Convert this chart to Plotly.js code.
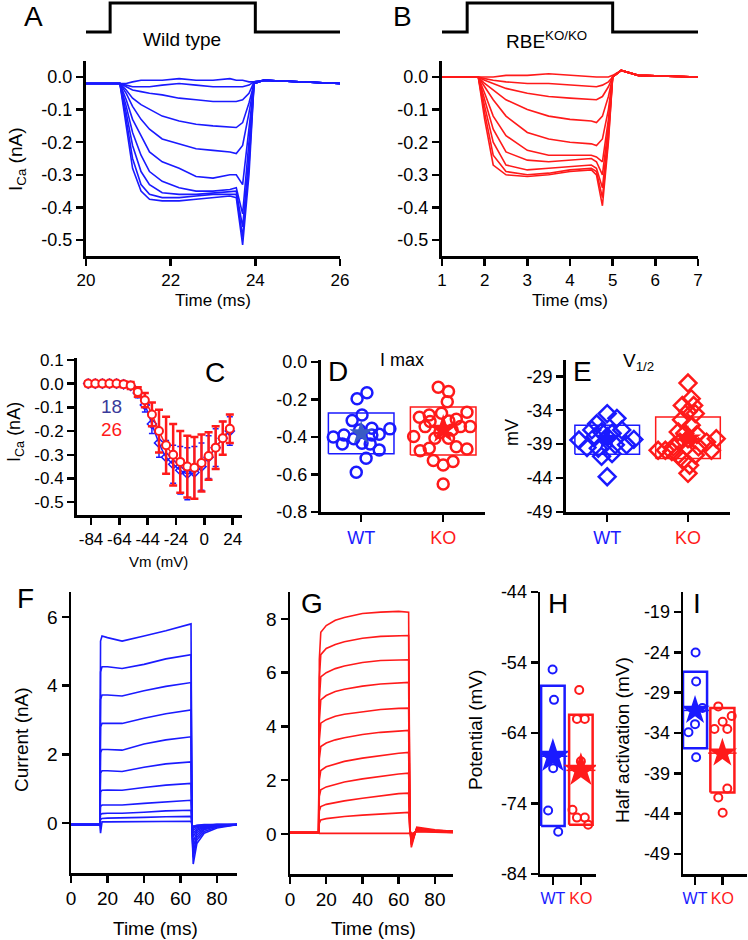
<!DOCTYPE html>
<html>
<head>
<meta charset="utf-8">
<script src="https://cdn.plot.ly/plotly-3.0.1.min.js"></script>
<style>
  body { margin: 0; background: #fff; }
  #fig { width: 748px; height: 940px; }
</style>
</head>
<body>
<div id="fig"></div>
<script>
// ---- A: wild type Ca currents (nA) vs time (ms)
const aTime = [20.0, 20.8, 20.95, 21.1, 21.3, 21.5, 21.8, 22.2, 22.6, 23.0, 23.4, 23.55, 23.7, 23.85, 23.97, 24.2, 26.0];
const aSweeps = [
  [-0.02,-0.02,-0.02,-0.015,-0.01,-0.01,-0.01,-0.005,-0.01,-0.01,-0.005,-0.01,-0.01,-0.015,-0.015,-0.01,-0.02],
  [-0.02,-0.02,-0.025,-0.03,-0.03,-0.03,-0.025,-0.02,-0.025,-0.03,-0.03,-0.03,-0.03,-0.025,-0.015,-0.01,-0.02],
  [-0.02,-0.02,-0.03,-0.04,-0.045,-0.05,-0.055,-0.065,-0.07,-0.075,-0.075,-0.075,-0.07,-0.05,-0.015,-0.01,-0.02],
  [-0.02,-0.02,-0.04,-0.065,-0.085,-0.1,-0.12,-0.135,-0.145,-0.15,-0.155,-0.155,-0.14,-0.08,-0.02,-0.01,-0.02],
  [-0.02,-0.02,-0.05,-0.09,-0.13,-0.16,-0.19,-0.205,-0.22,-0.225,-0.23,-0.235,-0.21,-0.11,-0.02,-0.01,-0.02],
  [-0.02,-0.02,-0.07,-0.13,-0.18,-0.23,-0.26,-0.28,-0.305,-0.31,-0.3,-0.3,-0.33,-0.15,-0.02,-0.01,-0.02],
  [-0.02,-0.02,-0.09,-0.17,-0.24,-0.29,-0.32,-0.34,-0.35,-0.35,-0.345,-0.34,-0.42,-0.2,-0.02,-0.01,-0.02],
  [-0.02,-0.02,-0.11,-0.21,-0.29,-0.33,-0.355,-0.36,-0.36,-0.355,-0.35,-0.35,-0.46,-0.24,-0.02,-0.01,-0.02],
  [-0.02,-0.02,-0.13,-0.25,-0.33,-0.36,-0.37,-0.37,-0.365,-0.36,-0.36,-0.36,-0.49,-0.27,-0.02,-0.01,-0.02],
  [-0.02,-0.02,-0.15,-0.28,-0.35,-0.375,-0.38,-0.38,-0.375,-0.37,-0.365,-0.37,-0.515,-0.3,-0.02,-0.01,-0.02]
];
const aStimT = [20, 20.57, 20.57, 24.0, 24.0, 26];
const stimLevel = [0, 0, 1, 1, 0, 0];

// ---- B: RBE KO/KO
const bTime = [1.0, 1.85, 2.0, 2.2, 2.5, 3.0, 3.5, 4.0, 4.5, 4.62, 4.76, 4.9, 5.0, 5.2, 5.6, 7.0];
const bSweeps = [
  [0,0,0,0,0.005,0.005,0.01,0.005,0,0,0,0,0.005,0.02,0.005,0],
  [0,0,-0.005,-0.01,-0.015,-0.02,-0.02,-0.025,-0.03,-0.03,-0.025,-0.015,0,0.02,0.005,0],
  [0,0,-0.01,-0.02,-0.035,-0.05,-0.06,-0.065,-0.07,-0.07,-0.06,-0.03,0,0.02,0.005,0],
  [0,0,-0.02,-0.04,-0.07,-0.1,-0.12,-0.13,-0.135,-0.14,-0.12,-0.06,0,0.02,0.005,0],
  [0,0,-0.03,-0.07,-0.12,-0.17,-0.19,-0.2,-0.205,-0.21,-0.19,-0.1,0,0.02,0.005,0],
  [0,0,-0.05,-0.12,-0.18,-0.225,-0.24,-0.24,-0.24,-0.245,-0.26,-0.13,0,0.02,0.005,0],
  [0,0,-0.07,-0.16,-0.23,-0.255,-0.26,-0.255,-0.25,-0.26,-0.3,-0.15,0,0.02,0.005,0],
  [0,0,-0.09,-0.2,-0.27,-0.285,-0.28,-0.275,-0.27,-0.28,-0.34,-0.17,0,0.02,0.005,0],
  [0,0,-0.11,-0.24,-0.29,-0.3,-0.295,-0.285,-0.28,-0.29,-0.37,-0.19,0,0.02,0.005,0],
  [0,0,-0.13,-0.27,-0.3,-0.305,-0.3,-0.29,-0.285,-0.3,-0.395,-0.2,0,0.02,0.005,0]
];
const bStimT = [1, 1.59, 1.59, 5.0, 5.0, 7];

// ---- C: I-V curves
const vmC = [-86,-81,-76,-71,-66,-61,-56,-51,-46,-41,-36,-31,-26,-21,-16,-11,-6,-1,4,9,14];
const wtMean = [0,0,0,0,0,-0.003,-0.01,-0.04,-0.09,-0.17,-0.25,-0.31,-0.34,-0.365,-0.38,-0.375,-0.35,-0.31,-0.27,-0.23,-0.2];
const wtErr = [0.01,0.01,0.01,0.01,0.01,0.01,0.012,0.02,0.03,0.04,0.06,0.07,0.08,0.1,0.11,0.11,0.1,0.09,0.08,0.07,0.06];
const koMean = [0,0,0,0,0,-0.003,-0.008,-0.035,-0.07,-0.13,-0.2,-0.26,-0.3,-0.33,-0.35,-0.355,-0.335,-0.305,-0.27,-0.23,-0.19];
const koErr = [0.01,0.01,0.01,0.01,0.01,0.012,0.015,0.02,0.03,0.05,0.09,0.12,0.13,0.13,0.13,0.13,0.12,0.1,0.09,0.07,0.06];

// ---- D: I max (nA)
const dWtJit = [0.07,-0.05,0.01,-0.11,0.13,0.35,-0.34,-0.21,0.22,-0.09,-0.23,0.01,0.11,0.22,0.06,-0.06,-0.02,0.13];
const dWtVal = [-0.164,-0.197,-0.283,-0.313,-0.354,-0.357,-0.40,-0.39,-0.386,-0.41,-0.437,-0.434,-0.437,-0.469,-0.514,-0.588,-0.363,-0.39];
const dKoJit = [-0.06,0.065,0.05,-0.29,-0.17,-0.02,0.29,0.16,-0.16,0.33,-0.36,0.11,-0.1,0.065,0.21,-0.28,-0.17,0.29,0.16,-0.12,0.12,0,0,-0.04,-0.22,0.07];
const dKoVal = [-0.135,-0.158,-0.212,-0.295,-0.283,-0.274,-0.268,-0.306,-0.318,-0.345,-0.398,-0.363,-0.407,-0.407,-0.345,-0.473,-0.46,-0.464,-0.452,-0.526,-0.531,-0.549,-0.651,-0.377,-0.345,-0.315];
const dBoxLo = [-0.49, -0.496], dBoxHi = [-0.272, -0.24], dMean = [-0.38, -0.36];

// ---- E: V1/2 (mV)
const eWtJit = [0,0.12,-0.13,-0.19,0.18,-0.07,0.06,-0.35,0.33,-0.25,0.24,-0.11,0.1,-0.07,0.06,0,0,-0.15];
const eWtVal = [-34.5,-35.2,-36.0,-36.9,-36.9,-37.2,-37.4,-38.4,-38.3,-39.5,-39.1,-39.6,-39.1,-40.8,-40.4,-37.9,-43.8,-37.9];
const eKoJit = [0,0.04,-0.07,0.07,0,0.09,-0.08,0.04,-0.12,-0.04,0.11,0,0.35,0.23,-0.1,-0.37,-0.28,-0.18,0.29,0.13,-0.12,0.09,-0.06,0.02,0,-0.2];
const eKoVal = [-30.0,-32.3,-33.3,-33.3,-34.2,-34.5,-35.4,-36.2,-37.2,-37.4,-37.6,-38.2,-38.2,-38.7,-38.7,-39.9,-39.9,-39.4,-39.9,-39.4,-40.6,-40.6,-41.4,-42.1,-43.3,-40.1];
const eBoxLo = [-40.5, -41.1], eBoxHi = [-36.2, -35.0], eMean = [-38.2, -38.2];

// ---- F / G: K currents (nA)
const fTime = [0, 15.8, 16.2, 17, 20, 28, 40, 52, 65.8, 66.3, 67, 69, 73, 80, 91];
const fSweeps = [
  [-0.05,-0.05,5.3,5.45,5.4,5.3,5.45,5.6,5.8,-0.2,-1.2,-0.6,-0.3,-0.15,-0.05],
  [-0.05,-0.05,4.4,4.55,4.55,4.5,4.62,4.78,4.9,-0.2,-1.0,-0.5,-0.25,-0.12,-0.05],
  [-0.05,-0.05,3.6,3.73,3.73,3.7,3.85,3.98,4.09,-0.2,-0.85,-0.42,-0.2,-0.1,-0.05],
  [-0.05,-0.05,2.8,2.9,2.9,2.9,3.05,3.18,3.29,-0.15,-0.7,-0.35,-0.17,-0.08,-0.05],
  [-0.05,-0.05,2.05,2.14,2.14,2.12,2.3,2.42,2.51,-0.15,-0.55,-0.28,-0.14,-0.07,-0.05],
  [-0.05,-0.05,1.45,1.52,1.52,1.5,1.62,1.72,1.78,-0.1,-0.4,-0.22,-0.12,-0.06,-0.05],
  [-0.05,-0.05,0.9,0.95,0.96,0.95,1.03,1.1,1.15,-0.1,-0.3,-0.18,-0.1,-0.06,-0.05],
  [-0.05,-0.05,0.48,0.52,0.52,0.52,0.57,0.62,0.66,-0.08,-0.22,-0.14,-0.08,-0.05,-0.05],
  [-0.05,-0.05,0.24,0.27,0.28,0.28,0.31,0.35,0.37,-0.06,-0.16,-0.1,-0.07,-0.05,-0.05],
  [-0.05,-0.05,0.1,0.13,0.14,0.14,0.16,0.18,0.19,-0.05,-0.12,-0.08,-0.06,-0.05,-0.05],
  [-0.05,-0.05,-0.3,0.03,0.03,0.03,0.04,0.05,0.05,-0.05,-0.1,-0.07,-0.05,-0.05,-0.05]
];
const gTime = [0, 15.8, 16.2, 17, 20, 25, 30, 40, 50, 60, 65.5, 66.2, 67, 70, 80, 90];
const gSweeps = [
  [0.05,0.05,6.5,7.5,7.75,7.95,8.05,8.2,8.25,8.28,8.25,0.3,-0.5,0.25,0.15,0.1],
  [0.05,0.05,5.8,6.67,6.9,7.05,7.15,7.28,7.35,7.38,7.38,0.25,-0.4,0.22,0.14,0.1],
  [0.05,0.05,5.0,5.84,6.0,6.15,6.25,6.38,6.45,6.48,6.48,0.25,-0.35,0.2,0.13,0.1],
  [0.05,0.05,4.2,4.99,5.15,5.3,5.38,5.5,5.58,5.62,5.64,0.2,-0.3,0.2,0.13,0.1],
  [0.05,0.05,3.5,4.12,4.25,4.38,4.45,4.55,4.63,4.67,4.68,0.2,-0.25,0.18,0.12,0.1],
  [0.05,0.05,2.8,3.25,3.38,3.5,3.58,3.7,3.78,3.83,3.85,0.2,-0.2,0.18,0.12,0.1],
  [0.05,0.05,2.0,2.36,2.5,2.6,2.7,2.82,2.92,3.0,3.03,0.15,-0.15,0.15,0.12,0.1],
  [0.05,0.05,1.4,1.64,1.75,1.85,1.93,2.05,2.15,2.23,2.26,0.15,-0.1,0.15,0.1,0.08],
  [0.05,0.05,0.85,1.02,1.1,1.17,1.23,1.33,1.42,1.5,1.52,0.1,-0.05,0.12,0.1,0.08],
  [0.05,0.05,0.4,0.52,0.57,0.62,0.65,0.7,0.75,0.79,0.8,0.1,0,0.1,0.08,0.06],
  [0.05,0.05,0.02,0.02,0.02,0.02,0.02,0.02,0.02,0.02,0.02,0.05,0,0.08,0.06,0.05]
];

// ---- H: potential (mV), I: half activation (mV)
const hWtJit = [-0.01,0.04,0.01,-0.17,0.19];
const hWtVal = [-55.0,-59.3,-69.0,-75.0,-78.0];
const hKoJit = [-0.06,-0.14,0.14,0,-0.3,-0.14,0.14,0.26];
const hKoVal = [-57.9,-62.0,-62.0,-68.0,-74.9,-76.0,-76.0,-77.0];
const hBoxLo = [-77.2, -77.0], hBoxHi = [-57.3, -61.4], hMean = [-67.3, -69.3];
const iWtJit = [0.02,0.04,0.27,0,-0.24,0.04];
const iWtVal = [-24.0,-27.6,-30.9,-32.9,-33.9,-37.0];
const iKoJit = [-0.15,0.34,0.01,-0.29,0.18,0.18,-0.15,0.01];
const iKoVal = [-30.7,-31.9,-32.6,-33.5,-33.5,-40.9,-42.0,-43.9];
const iBoxLo = [-35.9, -41.4], iBoxHi = [-26.4, -30.9], iMean = [-31.2, -36.5];

const BLUE = '#1a1aff', RED = '#ff1a1a';
const W = 748, H = 940;
const FONT = 'Liberation Sans, Arial, Helvetica, sans-serif';

function dx(l, r) { return [l / W, r / W]; }
function dy(top, bottom) { return [1 - bottom / H, 1 - top / H]; }

function axis(domain, range, anchor, vals, texts, extra) {
  return Object.assign({
    domain: domain, range: range, anchor: anchor,
    showline: true, linecolor: 'black', linewidth: 3,
    ticks: 'outside', ticklen: 7, tickwidth: 2.5, tickcolor: 'black',
    showgrid: false, zeroline: false, fixedrange: true, tickangle: 0,
    tickmode: 'array', tickvals: vals, ticktext: texts,
    tickfont: { family: FONT, size: 18, color: 'black' }
  }, extra || {});
}
function hidden(domain, range, anchor) {
  return { domain: domain, range: range, anchor: anchor, visible: false, fixedrange: true };
}
const f1 = v => v.toFixed(1);
const f0 = v => String(v);
const groupText = ['<span style="color:' + BLUE + '">WT</span>', '<span style="color:' + RED + '">KO</span>'];

const data = [];

function sweeps(t, list, color, xa, ya) {
  list.forEach(s => data.push({ x: t, y: s, xaxis: xa, yaxis: ya, mode: 'lines', type: 'scatter',
    line: { color: color, width: 1.6 }, hoverinfo: 'skip' }));
}
function stim(t, xa, ya) {
  data.push({ x: t, y: stimLevel, xaxis: xa, yaxis: ya, mode: 'lines', type: 'scatter',
    line: { color: 'black', width: 3 }, hoverinfo: 'skip' });
}
sweeps(aTime, aSweeps, BLUE, 'x', 'y');
stim(aStimT, 'x', 'y10');
sweeps(bTime, bSweeps, RED, 'x2', 'y2');
stim(bStimT, 'x2', 'y11');

// C
data.push({ x: vmC, y: wtMean, xaxis: 'x3', yaxis: 'y3', type: 'scatter', mode: 'lines+markers',
  line: { color: BLUE, width: 1.5, shape: 'spline' },
  marker: { symbol: 'diamond-open', size: 7, color: BLUE, line: { width: 1.5 } },
  error_y: { type: 'data', array: wtErr, color: BLUE, thickness: 1.5, width: 3 } });
data.push({ x: vmC, y: koMean, xaxis: 'x3', yaxis: 'y3', type: 'scatter', mode: 'lines+markers',
  line: { color: RED, width: 1.5, shape: 'spline' },
  marker: { symbol: 'circle', size: 8, color: 'white', line: { color: RED, width: 2 } },
  error_y: { type: 'data', array: koErr, color: RED, thickness: 2.5, width: 4 } });

// box + dots + mean star panels
function boxPanel(xa, ya, lo, hi, mean, pts, o) {
  const colors = [BLUE, RED];
  [0, 1].forEach(g => {
    const c = g, w = o.half;
    data.push({ x: [c - w, c + w, c + w, c - w, c - w], y: [lo[g], lo[g], hi[g], hi[g], lo[g]],
      xaxis: xa, yaxis: ya, type: 'scatter', mode: 'lines',
      line: { color: colors[g], width: o.boxWidth }, hoverinfo: 'skip' });
    if (o.meanLine) {
      data.push({ x: [c - 0.52, c + 0.52], y: [mean[g], mean[g]], xaxis: xa, yaxis: ya, type: 'scatter',
        mode: 'lines', line: { color: colors[g], width: 1.5 }, hoverinfo: 'skip' });
    }
    const jit = pts[g][0], val = pts[g][1];
    data.push({ x: jit.map(j => c + j), y: val, xaxis: xa, yaxis: ya, type: 'scatter', mode: 'markers',
      marker: { symbol: o.symbol, size: o.size, color: colors[g], line: { color: colors[g], width: o.lw } },
      hoverinfo: 'skip' });
    data.push({ x: [c], y: [mean[g]], xaxis: xa, yaxis: ya, type: 'scatter', mode: 'markers',
      marker: { symbol: 'star', size: o.star[g], color: o.starColor[g], line: { width: 0 } }, hoverinfo: 'skip' });
  });
}
boxPanel('x4', 'y4', dBoxLo, dBoxHi, dMean, [[dWtJit, dWtVal], [dKoJit, dKoVal]],
  { half: 0.4, boxWidth: 1.5, symbol: 'circle-open', size: 11, lw: 2.5, star: [18, 22], starColor: ['#3a5bc4', RED] });
boxPanel('x5', 'y5', eBoxLo, eBoxHi, eMean, [[eWtJit, eWtVal], [eKoJit, eKoVal]],
  { half: 0.4, boxWidth: 1.5, symbol: 'diamond-open', size: 13, lw: 2.5, star: [18, 20], starColor: [BLUE, RED] });

sweeps(fTime, fSweeps, BLUE, 'x6', 'y6');
sweeps(gTime, gSweeps, RED, 'x7', 'y7');

boxPanel('x8', 'y8', hBoxLo, hBoxHi, hMean, [[hWtJit, hWtVal], [hKoJit, hKoVal]],
  { half: 0.42, boxWidth: 2.5, symbol: 'circle-open', size: 8, lw: 2, star: [26, 26], starColor: [BLUE, RED], meanLine: true });
boxPanel('x9', 'y9', iBoxLo, iBoxHi, iMean, [[iWtJit, iWtVal], [iKoJit, iKoVal]],
  { half: 0.44, boxWidth: 2.5, symbol: 'circle-open', size: 8, lw: 2, star: [22, 22], starColor: [BLUE, RED], meanLine: true });

const aY = [0, -0.1, -0.2, -0.3, -0.4, -0.5];
const cY = [0.1, 0, -0.1, -0.2, -0.3, -0.4, -0.5];
const cX = [-84, -64, -44, -24, -4, 16];
const cXText = ['-84', '-64', '-44', '-24', '0', '24'];
const dY = [0, -0.2, -0.4, -0.6, -0.8];
const eY = [-29, -34, -39, -44, -49];
const fY = [0, 2, 4, 6], gY = [0, 2, 4, 6, 8], fgX = [0, 20, 40, 60, 80];
const hY = [-44, -54, -64, -74, -84];
const iY = [-19, -24, -29, -34, -39, -44, -49];
const abX = { tickfont: { family: FONT, size: 17, color: 'black' } };
const cfont = { tickfont: { family: FONT, size: 17, color: 'black' } };
const big = { tickfont: { family: FONT, size: 19, color: 'black' }, linewidth: 2.5 };
const mid = { tickfont: { family: FONT, size: 18, color: 'black' }, linewidth: 2.5 };
const grp = { tickfont: { family: FONT, size: 18 } };
const grpThin = { tickfont: { family: FONT, size: 16 }, linewidth: 2.5, ticklen: 8 };

const layout = {
  width: W, height: H, margin: { l: 0, r: 0, t: 0, b: 0 },
  paper_bgcolor: 'white', plot_bgcolor: 'rgba(0,0,0,0)', showlegend: false,
  font: { family: FONT, color: 'black' },
  xaxis: axis(dx(86, 340), [20, 26], 'y', [20, 22, 24, 26], [20, 22, 24, 26].map(f0), abX),
  yaxis: axis(dy(61, 256), [-0.549, 0.049], 'x', aY, aY.map(f1)),
  xaxis2: axis(dx(442, 698), [1, 7], 'y2', [1, 2, 3, 4, 5, 6, 7], [1, 2, 3, 4, 5, 6, 7].map(f0), abX),
  yaxis2: axis(dy(61, 256), [-0.549, 0.049], 'x2', aY, aY.map(f1)),
  yaxis10: hidden(dy(1, 34), [-0.069, 1.069], 'x'),
  yaxis11: hidden(dy(1, 34), [-0.069, 1.069], 'x2'),
  xaxis3: axis(dx(77, 242), [-93.9, 22.6], 'y3', cX, cXText, cfont),
  yaxis3: axis(dy(358, 515), [-0.554, 0.108], 'x3', cY, cY.map(f1), cfont),
  xaxis4: axis(dx(321, 485), [-0.49, 1.51], 'y4', [0, 1], groupText, grp),
  yaxis4: axis(dy(360, 512), [-0.8, 0.01], 'x4', dY, dY.map(f1)),
  xaxis5: axis(dx(566, 730), [-0.51, 1.52], 'y5', [0, 1], groupText, grp),
  yaxis5: axis(dy(360, 512), [-49, -26.6], 'x5', eY, eY.map(f0)),
  xaxis6: axis(dx(71, 237), [0, 91], 'y6', fgX, fgX.map(f0), big),
  yaxis6: axis(dy(592, 873), [-1.46, 6.73], 'x6', fY, fY.map(f0), big),
  xaxis7: axis(dx(290, 453), [0, 90], 'y7', fgX, fgX.map(f0), big),
  yaxis7: axis(dy(592, 874), [-1.49, 9.0], 'x7', gY, gY.map(f0), big),
  xaxis8: axis(dx(540, 596), [-0.46, 1.54], 'y8', [0, 1], groupText, grpThin),
  yaxis8: axis(dy(592, 874), [-84, -44], 'x8', hY, hY.map(f0), mid),
  xaxis9: axis(dx(683, 747), [-0.44, 1.9], 'y9', [0, 1], groupText, grpThin),
  yaxis9: axis(dy(592, 874), [-51.5, -16.5], 'x9', iY, iY.map(f0), mid),
  annotations: []
};

function note(text, px, py, size, extra) {
  layout.annotations.push(Object.assign({
    text: text, x: px / W, y: 1 - py / H, xref: 'paper', yref: 'paper', showarrow: false,
    xanchor: 'center', yanchor: 'middle', font: { family: FONT, size: size, color: 'black' }
  }, extra || {}));
}
// panel letters
note('A', 33, 16, 28); note('B', 402, 16, 28); note('C', 215, 372, 28);
note('D', 338, 371, 28); note('E', 582, 371, 28); note('F', 25, 598, 28);
note('G', 312, 603, 28); note('H', 558, 603, 28); note('I', 697, 603, 28);
// titles
note('Wild type', 182, 40, 19);
note('RBE<sup>KO/KO</sup>', 546, 40, 19);
note('I max', 402, 360, 18);
note('V<sub>1/2</sub>', 638, 362, 19);
note('18', 112, 407, 19, { font: { family: FONT, size: 19, color: '#3a3a9a' } });
note('26', 112, 430, 19, { font: { family: FONT, size: 19, color: RED } });
// axis titles
note('I<sub>Ca</sub> (nA)', 17, 160, 19, { textangle: -90 });
note('Time (ms)', 213, 301, 17);
note('Time (ms)', 570, 301, 17);
note('I<sub>Ca</sub> (nA)', 15, 432, 18, { textangle: -90 });
note('Vm (mV)', 158, 561, 15);
note('mV', 512, 432, 18, { textangle: -90 });
note('Current (nA)', 21, 740, 19, { textangle: -90 });
note('Time (ms)', 155, 928, 19);
note('Time (ms)', 373, 928, 19);
note('Potential (mV)', 475, 730, 19, { textangle: -90 });
note('Half activation (mV)', 622, 740, 19, { textangle: -90 });

Plotly.newPlot('fig', data, layout, { staticPlot: true, displayModeBar: false });
</script>
</body>
</html>
